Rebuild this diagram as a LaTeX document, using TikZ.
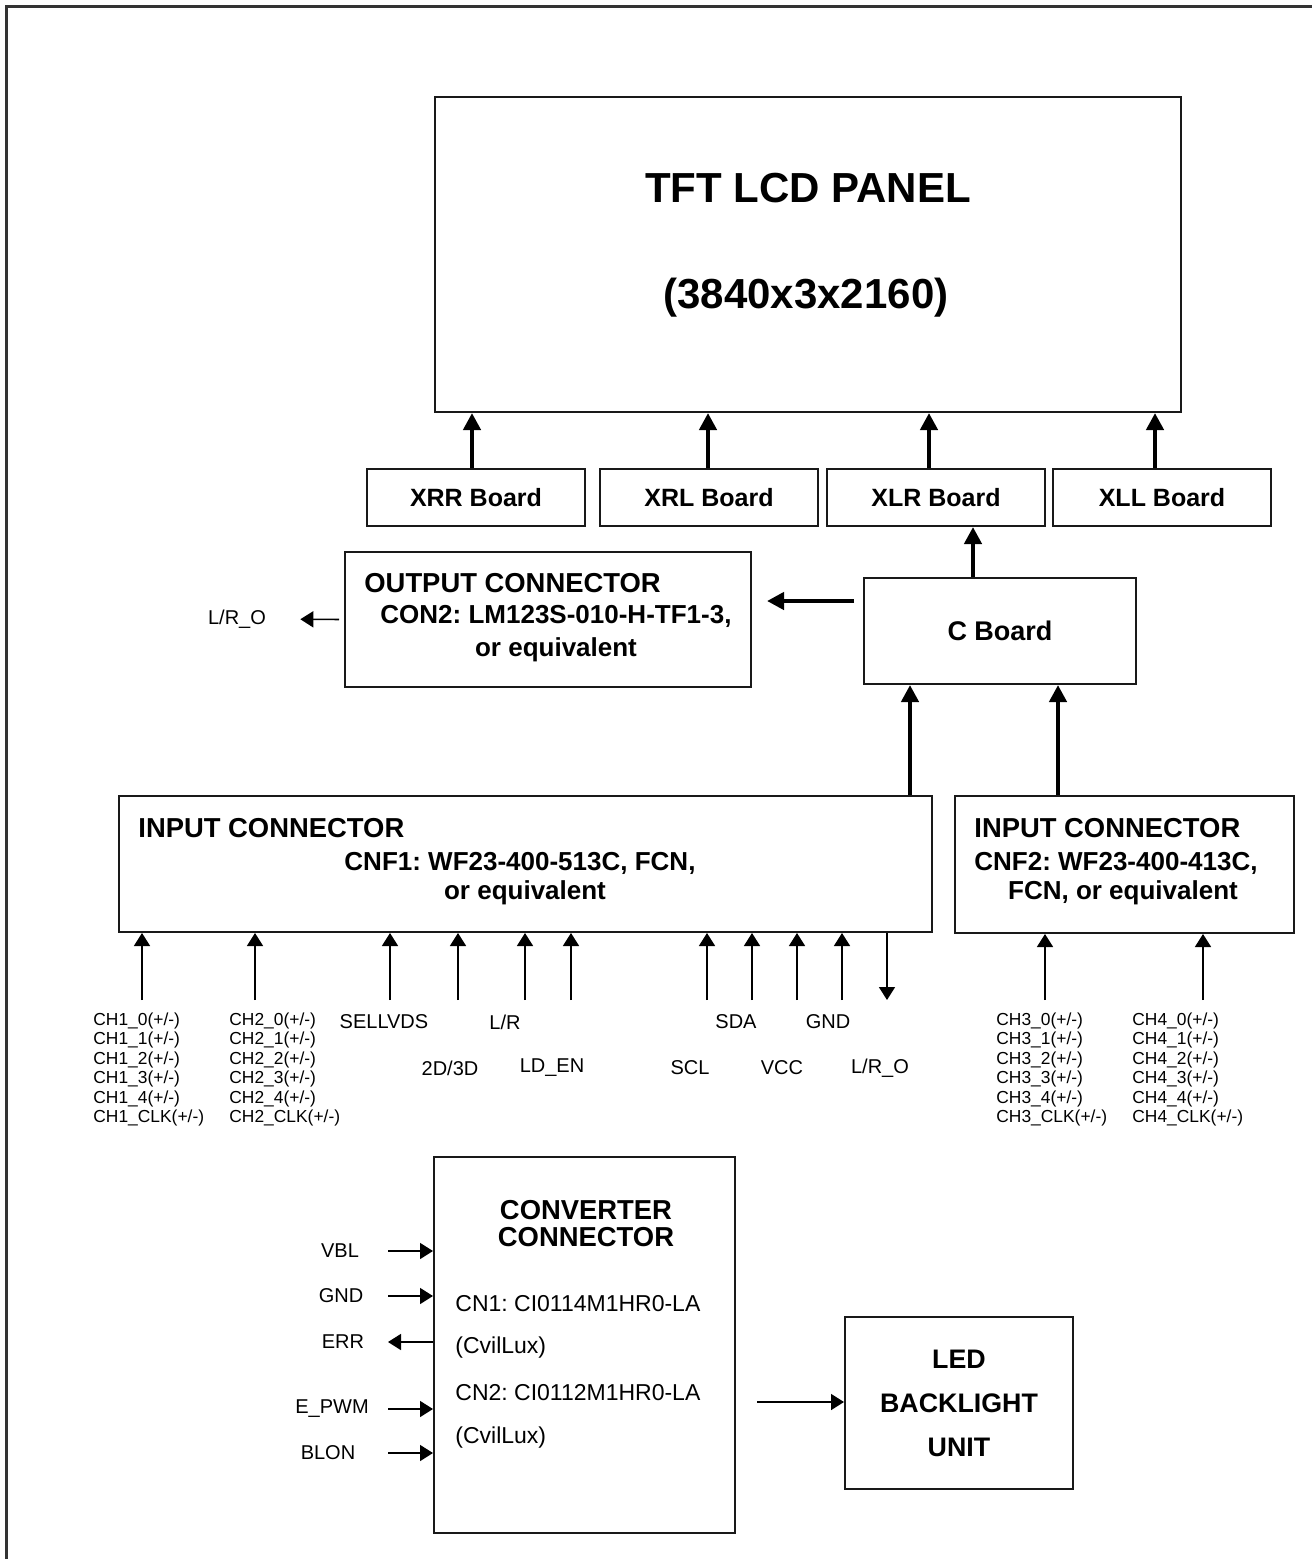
\documentclass[tikz,border=0pt]{standalone}
\usepackage{fontspec}
\setmainfont{Liberation Sans}
\usetikzlibrary{arrows.meta,calc}
\frenchspacing

\begin{document}
\begin{tikzpicture}[
    x=0.5pt,y=-0.5pt,
    box/.style={draw=black!90,line width=1pt,inner sep=0pt},
    board/.style={minimum width=109pt,minimum height=28.5pt,font=\fontsize{12.5}{15}\selectfont\bfseries},
    title/.style={font=\fontsize{21}{25}\selectfont\bfseries,inner sep=0pt},
    heading/.style={font=\fontsize{13.7}{16}\selectfont\bfseries,inner sep=0pt},
    subhead/.style={font=\fontsize{13}{16}\selectfont\bfseries,inner sep=0pt},
    siglabel/.style={font=\fontsize{10}{12}\selectfont,inner sep=0pt},
    chlabel/.style={font=\fontsize{8.7}{10}\selectfont,inner sep=0pt,anchor=west},
    partno/.style={font=\fontsize{11.5}{14}\selectfont,inner sep=0pt,anchor=west},
    busarrow/.style={-{Triangle[length=8.5pt,width=8.5pt]},line width=2.2pt},
    sigarrow/.style={-{Triangle[length=6.5pt,width=8pt]},line width=0.8pt}
  ]
  \useasboundingbox (0,0) rectangle (1312,1559);
  \draw[black!80,line width=1.2pt] (6.5,1559) -- (6.5,6.5) -- (1312,6.5);

  % panel and source boards
  \node[box,minimum width=373pt,minimum height=157.5pt] (panel) at (808,254.5) {};
  \node[title] (paneltitle) at (808,188) {TFT LCD PANEL};
  \node[title] (panelres) at (806,298) {(3840x3x2160)};

  \foreach \n/\t/\x in {xrr/XRR/476, xrl/XRL/709, xlr/XLR/936, xll/XLL/1162}
    \node[box,board] (\n) at (\x,497.5) {\t\ Board};
  \foreach \n/\d in {xrr/-2pt, xrl/-0.5pt, xlr/-3.5pt, xll/-3.5pt}
    \draw[busarrow] ([xshift=\d]\n.north) -- ([xshift=\d]\n.north |- panel.south);

  % C board and output connector
  \node[box,minimum width=136pt,minimum height=53pt,font=\fontsize{13.5}{16}\selectfont\bfseries] (cboard) at (1000,631) {C Board};
  \draw[busarrow] ([xshift=-13.5pt]cboard.north) -- ([xshift=-13.5pt]cboard.north |- xlr.south);

  \node[box,minimum width=203pt,minimum height=67.5pt] (outcon) at (548,619.5) {};
  \node[heading,anchor=west] (outtitle) at (364,583) {OUTPUT CONNECTOR};
  \node[subhead] (outpart) at (556,616) {CON2: LM123S-010-H-TF1-3,};
  \node[subhead] (outeq) at (556,650) {or equivalent};

  \coordinate (cbout) at ($(cboard.west)+(-4.5pt,15pt)$);
  \draw[busarrow] (cbout) -- ([xshift=7.5pt]cbout -| outcon.east);

  \node[siglabel] (lro) at (237,619) {L/R\_O};
  \draw[sigarrow,shorten <=2.5pt,shorten >=17pt] (outcon.west) -- (lro.east);

  % input connectors
  \node[box,minimum width=406.5pt,minimum height=68pt] (in1) at (525.5,864) {};
  \node[heading,anchor=west] (in1title) at (138,828) {INPUT CONNECTOR};
  \node[subhead] (in1part) at (520,863) {CNF1: WF23-400-513C, FCN,};
  \node[subhead] (in1eq) at (525,893) {or equivalent};

  \node[box,minimum width=169.5pt,minimum height=68.5pt] (in2) at (1124.5,864.5) {};
  \node[heading,anchor=west] (in2title) at (974,828) {INPUT CONNECTOR};
  \node[subhead] (in2part) at (1116,863) {CNF2: WF23-400-413C,};
  \node[subhead] (in2eq) at (1123,893) {FCN, or equivalent};

  \draw[busarrow] ([xshift=-45pt]cboard.south |- in1.north) -- ([xshift=-45pt]cboard.south);
  \draw[busarrow] ([xshift=29pt]cboard.south |- in2.north) -- ([xshift=29pt]cboard.south);

  % input signals
  \foreach \x in {142,255,390,458,525,571,707,752,797,842} {
    \coordinate (sig\x) at (\x,1000);
    \draw[sigarrow] (sig\x) -- (sig\x |- in1.south);
  }
  \coordinate (siglro) at (887,1000);
  \draw[sigarrow] (siglro |- in1.south) -- (siglro);
  \foreach \x in {1045,1203} {
    \coordinate (sig\x) at (\x,1000);
    \draw[sigarrow] (sig\x) -- (sig\x |- in2.south);
  }

  \foreach \g/\x in {1/93, 2/229, 3/996, 4/1132}
    \foreach \s [count=\k] in {0,1,2,3,4,CLK}
      \node[chlabel] (ch\g\s) at (\x,{1021+19.4*(\k-1)}) {CH\g\_\s(+/-)};

  \node[siglabel] (sellvds) at (384,1022) {SELLVDS};
  \node[siglabel] (lr) at (505,1022) {L/R};
  \node[siglabel] (sda) at (736,1022) {SDA};
  \node[siglabel] (gnd1) at (828,1022) {GND};
  \node[siglabel] (dim) at (450,1068) {2D/3D};
  \node[siglabel] (lden) at (552,1068) {LD\_EN};
  \node[siglabel] (scl) at (690,1068) {SCL};
  \node[siglabel] (vcc) at (782,1068) {VCC};
  \node[siglabel] (lro2) at (880,1068) {L/R\_O};

  % converter connector and backlight
  \node[box,minimum width=150.5pt,minimum height=188pt] (conv) at (584.5,1345) {};
  \node[heading] (convtitle) at (586,1210) {CONVERTER};
  \node[heading] (convtitleb) at (586,1237) {CONNECTOR};
  \node[partno] (cn1) at (455,1304) {CN1: CI0114M1HR0-LA};
  \node[partno] (cn1v) at (455,1348) {(CvilLux)};
  \node[partno] (cn2) at (455,1393) {CN2: CI0112M1HR0-LA};
  \node[partno] (cn2v) at (455,1438) {(CvilLux)};

  \foreach \n/\t/\lx/\y in {vbl/VBL/340/1251, gnd/GND/341/1296, epwm/E\_PWM/332/1409, blon/BLON/328/1453} {
    \node[siglabel] (\n) at (\lx,\y) {\t};
    \coordinate (\n end) at (388,\y);
    \draw[sigarrow] (\n end) -- (\n end -| conv.west);
  }
  \node[siglabel] (err) at (343,1342) {ERR};
  \coordinate (err end) at (388,1342);
  \draw[sigarrow] (err end -| conv.west) -- (err end);

  \node[box,minimum width=114pt,minimum height=86pt,align=center,font=\fontsize{13.4}{22}\selectfont\bfseries] (led) at (959,1403) {LED\\BACKLIGHT\\UNIT};
  \coordinate (ledin) at (757,1402);
  \draw[sigarrow] (ledin) -- (ledin -| led.west);
\end{tikzpicture}
\end{document}
